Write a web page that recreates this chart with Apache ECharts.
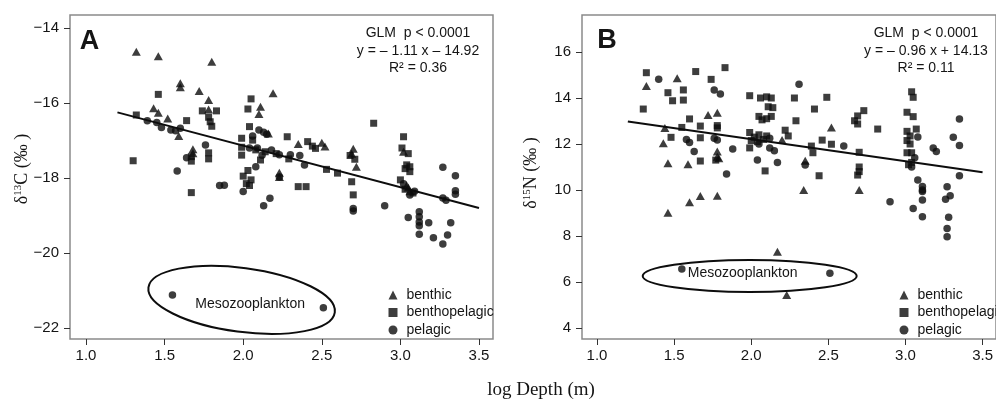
<!DOCTYPE html>
<html><head><meta charset="utf-8">
<script src="https://cdn.jsdelivr.net/npm/echarts@6/dist/echarts.min.js"></script>
<style>html,body{margin:0;padding:0;background:#fff}#c{width:996px;height:401px}</style>
</head><body><div id="c"></div>
<script>
// ---------- data ----------
const xTickValues = [1.0, 1.5, 2.0, 2.5, 3.0, 3.5];
const yTicksA = [-22, -20, -18, -16, -14];
const yTicksB = [4, 6, 8, 10, 12, 14, 16];

const benthicA = [[1.32,-14.63],[1.46,-14.75],[1.80,-14.90],[1.60,-15.47],[1.60,-15.58],[1.72,-15.68],[1.78,-15.92],[2.19,-15.74],[2.11,-16.10],[2.10,-16.29],[1.43,-16.14],[1.46,-16.26],[1.52,-16.41],[1.78,-16.17],[1.59,-16.88],[1.68,-17.23],[1.68,-17.34],[2.23,-17.86],[2.23,-17.97],[2.16,-16.81],[2.35,-17.09],[2.50,-17.06],[2.52,-17.16],[2.70,-17.22],[2.69,-17.35],[2.72,-17.70],[3.02,-17.30],[3.05,-18.25],[3.06,-18.35],[3.04,-18.20]];
const benthopelagicA = [[1.30,-17.54],[1.32,-16.32],[1.46,-15.77],[1.64,-16.47],[1.74,-16.21],[1.83,-16.21],[1.78,-16.38],[1.79,-16.50],[1.80,-16.62],[1.67,-17.43],[1.67,-17.55],[1.78,-17.33],[1.78,-17.49],[1.67,-18.39],[2.05,-15.89],[2.03,-16.16],[2.04,-16.63],[2.06,-16.99],[1.99,-16.94],[1.99,-17.18],[1.99,-17.39],[2.11,-17.52],[2.28,-16.90],[2.29,-17.49],[2.00,-17.95],[2.03,-17.80],[2.05,-18.05],[2.02,-18.15],[2.04,-18.20],[2.83,-16.54],[2.41,-17.03],[2.44,-17.15],[2.46,-17.21],[2.53,-17.77],[2.60,-17.87],[2.35,-18.23],[2.40,-18.23],[2.69,-18.10],[2.70,-18.45],[2.68,-17.40],[2.71,-17.50],[3.02,-16.90],[3.01,-17.20],[3.05,-17.35],[3.04,-17.65],[3.03,-17.75],[3.06,-17.70],[3.06,-17.83],[3.00,-18.05],[3.03,-18.30],[3.08,-18.40],[2.14,-17.30],[2.21,-17.35],[2.08,-17.25]];
const pelagicA = [[1.39,-16.47],[1.45,-16.52],[1.48,-16.65],[1.54,-16.72],[1.57,-16.74],[1.60,-16.67],[1.76,-17.12],[1.64,-17.46],[1.58,-17.81],[1.85,-18.20],[1.88,-18.19],[2.10,-16.72],[2.13,-16.78],[2.15,-16.83],[2.06,-16.88],[2.12,-17.39],[2.08,-17.70],[2.00,-18.36],[2.17,-18.54],[2.13,-18.74],[2.23,-17.38],[2.30,-17.38],[2.36,-17.40],[2.39,-17.65],[2.23,-17.97],[2.04,-17.20],[2.09,-17.20],[2.18,-17.25],[2.70,-18.81],[2.70,-18.88],[2.90,-18.74],[3.05,-19.05],[3.12,-18.90],[3.12,-19.03],[3.12,-19.17],[3.12,-19.27],[3.12,-19.50],[3.18,-19.19],[3.21,-19.59],[3.27,-19.76],[3.30,-19.52],[3.32,-19.19],[3.27,-18.53],[3.29,-18.59],[3.35,-18.34],[3.35,-18.43],[3.27,-17.71],[3.35,-17.94],[3.02,-18.15],[3.06,-18.45],[3.09,-18.35],[1.55,-21.12],[2.51,-21.46]];

const benthicB = [[1.32,14.52],[1.52,14.86],[1.72,13.26],[1.78,13.36],[1.43,12.03],[1.44,12.70],[1.78,11.67],[1.78,11.45],[1.79,11.38],[1.46,11.16],[1.59,11.12],[2.20,12.17],[2.52,12.72],[2.35,11.27],[2.34,10.00],[2.70,10.00],[1.46,9.01],[1.60,9.47],[1.67,9.74],[1.78,9.75],[2.17,7.32],[2.23,5.43]];
const benthopelagicB = [[1.32,15.10],[1.64,15.15],[1.83,15.32],[1.74,14.81],[1.46,14.23],[1.56,14.35],[1.49,13.88],[1.56,13.91],[1.30,13.52],[1.60,13.09],[1.67,12.78],[1.78,12.80],[1.78,12.70],[1.55,12.72],[1.48,12.29],[1.67,12.27],[1.67,11.26],[1.77,11.30],[1.99,14.10],[2.06,14.00],[2.10,14.05],[2.13,14.00],[2.11,13.62],[2.14,13.58],[2.05,13.20],[2.07,13.05],[2.10,13.10],[2.13,13.20],[1.99,12.50],[2.02,12.30],[2.05,12.40],[2.08,12.20],[2.00,12.15],[2.04,12.10],[2.10,12.35],[1.99,11.83],[2.09,10.83],[2.22,12.60],[2.24,12.35],[2.28,14.00],[2.49,14.03],[2.41,13.52],[2.29,13.01],[2.73,13.45],[2.69,13.22],[2.67,13.01],[2.69,12.87],[2.82,12.65],[2.46,12.17],[2.52,11.99],[2.39,11.91],[2.40,11.62],[2.70,11.64],[2.70,11.00],[2.70,10.80],[2.69,10.65],[2.44,10.62],[3.04,14.27],[3.05,14.03],[3.01,13.38],[3.05,13.19],[3.07,12.65],[3.01,12.55],[3.03,12.35],[3.01,12.15],[3.03,12.00],[3.04,11.62],[3.01,11.62],[3.02,11.10],[3.04,11.20]];
const pelagicB = [[1.40,14.81],[1.76,14.35],[1.80,14.17],[1.58,12.20],[1.60,12.06],[1.76,12.25],[1.78,12.17],[1.63,11.67],[1.88,11.78],[1.84,10.70],[2.04,11.30],[2.17,11.20],[2.12,11.83],[2.15,11.71],[2.31,14.60],[2.60,11.91],[2.35,11.09],[2.90,9.49],[3.05,9.20],[3.08,10.43],[3.11,10.15],[3.11,10.00],[3.11,9.93],[3.11,9.57],[3.11,8.84],[3.27,10.14],[3.29,9.75],[3.26,9.60],[3.28,8.81],[3.27,8.33],[3.27,7.97],[3.18,11.83],[3.20,11.67],[3.35,13.09],[3.31,12.29],[3.35,11.93],[3.35,10.62],[2.05,12.00],[2.12,12.25],[3.04,11.00],[3.06,11.40],[3.08,12.30],[1.55,6.57],[2.51,6.38]];

const fitA = [[1.2,-16.25],[3.5,-18.80]];
const fitB = [[1.2,12.98],[3.5,10.77]];
const mesoCenterA = [1.99,-21.25];
const mesoCenterB = [1.99,6.26];
const statsA = ['GLM  p < 0.0001','y = \u2013 1.11 x \u2013 14.92','R\u00b2 = 0.36'];
const statsB = ['GLM  p < 0.0001','y = \u2013 0.96 x + 14.13','R\u00b2 = 0.11'];

// ---------- chart ----------
const SANS = '"Liberation Sans", Arial, sans-serif';
const SERIF = '"Liberation Serif", "Times New Roman", serif';
const INK = '#0d0d0d';
const chart = echarts.init(document.getElementById('c'), null, {renderer:'canvas'});

function frameAxis(i){ return {type:'value', gridIndex:i, show:false, min:0, max:1}; }
function dataX(i){
  return {type:'value', gridIndex:i, min:1, max:3.5, interval:0.5, offset:11,
    axisLine:{show:false}, splitLine:{show:false},
    axisTick:{show:true, length:6, lineStyle:{color:'#333', width:1}},
    axisLabel:{margin:9, fontSize:15, fontFamily:SANS, color:'#151515', formatter:v=>v.toFixed(1)}};
}
function dataY(i, min, max, off, name, gap, pad){
  return {type:'value', gridIndex:i, min:min, max:max, interval:2, offset:off,
    axisLine:{show:false}, splitLine:{show:false},
    axisTick:{show:true, length:6, lineStyle:{color:'#333', width:1}},
    axisLabel:{margin:11, fontSize:15, fontFamily:SANS, color:'#151515', formatter:v=>String(v).replace('-','\u2212')},
    name:name, nameLocation:'middle', nameGap:gap, nameMoveOverlap:false,
    nameTextStyle:{fontFamily:SERIF, fontSize:18, color:'#151515', padding:[0,0,0,pad],
      rich:{s:{fontFamily:SERIF, fontSize:11, color:'#151515', verticalAlign:'top'}}}};
}
function scatter(name, data, xi, sym, size){
  return {type:'scatter', name:name, data:data, xAxisIndex:xi, yAxisIndex:xi, symbol:sym, symbolSize:size,
    itemStyle:{color:INK}, silent:true};
}
function fit(data, xi){
  return {type:'line', data:data, xAxisIndex:xi, yAxisIndex:xi, symbol:'none', silent:true,
    lineStyle:{color:INK, width:2}};
}
const legendItems = [{name:'benthic', icon:'triangle'},{name:'benthopelagic', icon:'rect'},{name:'pelagic', icon:'circle'}];
function legend(left){
  return {left:left, top:283, orient:'vertical', itemWidth:9, itemHeight:9, itemGap:3.5, selectedMode:false,
    data:legendItems, textStyle:{fontSize:14, fontFamily:SANS, color:'#151515', lineHeight:14, padding:[0,0,0,4]}};
}

const option = {
  animation:false,
  backgroundColor:'#fff',
  grid:[
    {left:70, top:15, width:423, height:324, show:true, borderColor:'#8a8a8a', borderWidth:1.5, backgroundColor:'transparent'},
    {left:86, top:28, width:393, height:300, show:false},
    {left:582, top:15, width:422, height:324, show:true, borderColor:'#8a8a8a', borderWidth:1.5, backgroundColor:'transparent'},
    {left:597, top:52, width:393, height:276, show:false}
  ],
  xAxis:[frameAxis(0), dataX(1), frameAxis(2), dataX(3)],
  yAxis:[frameAxis(0),
    dataY(1, -22, -14, 16, '\u03b4{s|13}C (\u2030 )', 39, 18),
    frameAxis(2),
    dataY(3, 4, 16, 15, '\u03b4{s|15}N (\u2030 )', 42, 34)],
  legend:[legend(383.5), legend(894.5)],
  series:[
    scatter('benthic', benthicA, 1, 'triangle', [9,8]),
    scatter('benthopelagic', benthopelagicA, 1, 'rect', 7),
    scatter('pelagic', pelagicA, 1, 'circle', 7.5),
    fit(fitA, 1),
    scatter('benthic', benthicB, 3, 'triangle', [9,8]),
    scatter('benthopelagic', benthopelagicB, 3, 'rect', 7),
    scatter('pelagic', pelagicB, 3, 'circle', 7.5),
    fit(fitB, 3)
  ]
};
chart.setOption(option);

const cA = chart.convertToPixel({xAxisIndex:1, yAxisIndex:1}, mesoCenterA);
const cB = chart.convertToPixel({xAxisIndex:3, yAxisIndex:3}, mesoCenterB);
function txt(x, y, text, font, align){
  return {type:'text', x:x, y:y, silent:true, z:100,
    style:{text:text, font:font, fill:'#151515', align:align||'center', verticalAlign:'middle'}};
}
const g = [
  txt(89.5, 41.5, 'A', 'bold 27px ' + SANS),
  txt(607, 40.5, 'B', 'bold 27px ' + SANS),
  txt(418, 33, statsA[0], '14px ' + SANS), txt(418, 51, statsA[1], '14px ' + SANS), txt(418, 68, statsA[2], '14px ' + SANS),
  txt(926, 33, statsB[0], '14px ' + SANS), txt(926, 51, statsB[1], '14px ' + SANS), txt(926, 68, statsB[2], '14px ' + SANS),
  {type:'ellipse', x:cA[0], y:cA[1], rotation:-0.133, silent:true, z:90,
    shape:{cx:0, cy:0, rx:94, ry:32}, style:{fill:'none', stroke:INK, lineWidth:2}},
  {type:'ellipse', x:cB[0], y:cB[1], silent:true, z:90,
    shape:{cx:0, cy:0, rx:107, ry:16}, style:{fill:'none', stroke:INK, lineWidth:2}},
  txt(cA[0] + 8.5, cA[1] + 4, 'Mesozooplankton', '14px ' + SANS),
  txt(cB[0] - 7, cB[1] - 3, 'Mesozooplankton', '14px ' + SANS),
  txt(541, 390, 'log Depth (m)', '19px ' + SERIF)
];
chart.setOption({graphic:g});
</script></body></html>
